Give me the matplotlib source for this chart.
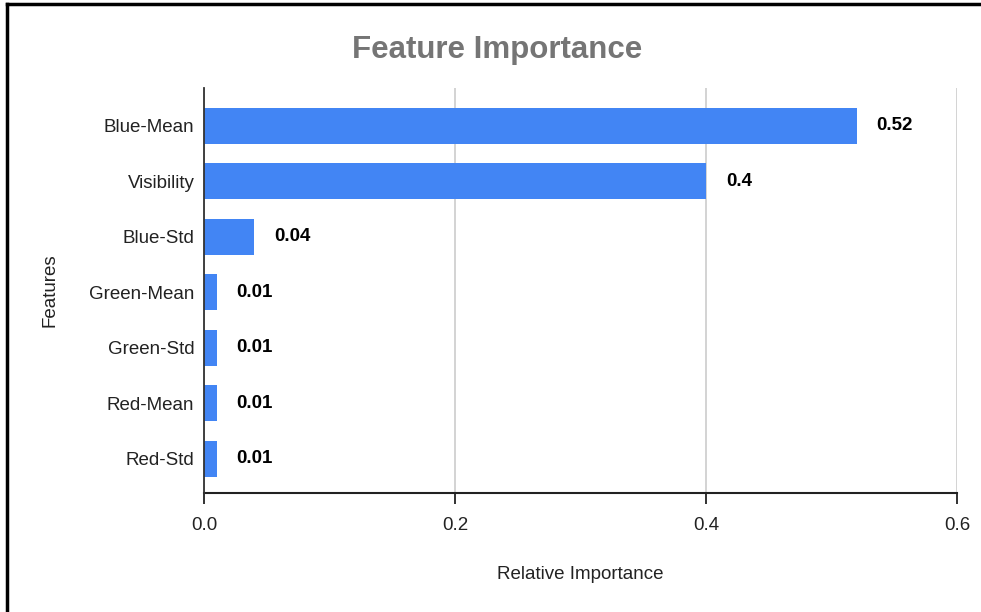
import matplotlib.pyplot as plt
from matplotlib.lines import Line2D

plt.rcParams['font.family'] = ['Liberation Sans', 'DejaVu Sans']

features = ["Blue-Mean", "Visibility", "Blue-Std", "Green-Mean", "Green-Std", "Red-Mean", "Red-Std"]
importance = [0.52, 0.4, 0.04, 0.01, 0.01, 0.01, 0.01]
value_labels = ["0.52", "0.4", "0.04", "0.01", "0.01", "0.01", "0.01"]
x_ticks = [0.0, 0.2, 0.4, 0.6]

fig = plt.figure(figsize=(9.81, 6.12), dpi=100)
ax = fig.add_axes([0.208, 0.1944, 0.7675, 0.6618])

pos = list(range(len(features)))
ax.barh(pos, importance, height=0.65, color='#4285F4', zorder=3)
for p, v, lab in zip(pos, importance, value_labels):
    ax.annotate(lab, (v, p), xytext=(20, 0), textcoords='offset pixels',
                va='center', ha='left', fontsize=13.5, fontweight='bold', color='#000000')

ax.set_ylim(6.62, -0.68)
ax.set_xlim(0, 0.6)
ax.set_yticks(pos)
ax.set_yticklabels(features, fontsize=13.5, color='#222222')
ax.set_xticks(x_ticks)
ax.set_xticklabels([f"{t:.1f}" for t in x_ticks], fontsize=13.5, color='#222222')
ax.tick_params(axis='y', length=0, pad=7)
ax.tick_params(axis='x', direction='out', length=8, width=1.3, color='#222222', pad=9.5)
ax.grid(axis='x', color='#cccccc', linewidth=1.2, zorder=0)
for side in ['top', 'right']:
    ax.spines[side].set_visible(False)
ax.spines['left'].set_color('#333333')
ax.spines['left'].set_linewidth(1.3)
ax.spines['bottom'].set_color('#222222')
ax.spines['bottom'].set_linewidth(1.5)
ax.spines['left'].set_zorder(4)

ax.set_xlabel("Relative Importance", fontsize=13.5, color='#222222', labelpad=23)
ax.set_ylabel("Features", fontsize=13.5, color='#222222', labelpad=22)

fig.text(0.507, 0.918, "Feature Importance", ha='center', va='center',
         fontsize=22.5, fontweight='bold', color='#757575')

# frame on the left and top edges
fig.add_artist(Line2D([0.007, 0.007], [0, 0.993], transform=fig.transFigure, color='black', linewidth=2.5))
fig.add_artist(Line2D([0.007, 1.0], [0.993, 0.993], transform=fig.transFigure, color='black', linewidth=2.5))

fig.savefig("out.png", dpi=100)
